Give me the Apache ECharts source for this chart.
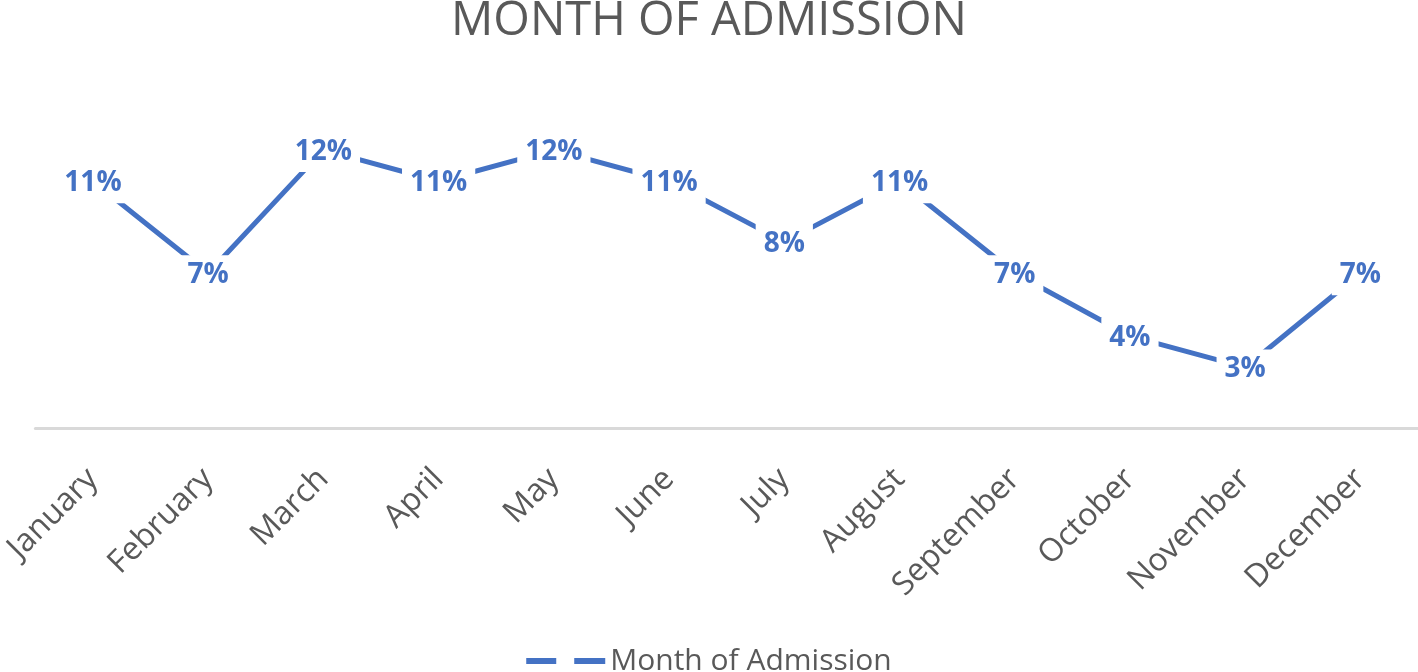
<!DOCTYPE html>
<html>
<head>
<meta charset="utf-8">
<script src="https://cdn.jsdelivr.net/npm/echarts@6/dist/echarts.min.js"></script>
<style>
  html, body { margin: 0; padding: 0; background: #fff; }
  #chart { width: 1418px; height: 672px; }
</style>
</head>
<body>
<div id="chart"></div>
<script>
const months = ['January', 'February', 'March', 'April', 'May', 'June',
  'July', 'August', 'September', 'October', 'November', 'December']
// share of admissions per month
const admissionShare = [0.110, 0.069, 0.124, 0.110, 0.124, 0.110,
  0.083, 0.110, 0.069, 0.041, 0.027, 0.069]

const blue = '#4472C4'
const grey = '#595959'
const font = 'Open Sans'

const chart = echarts.init(document.getElementById('chart'))

chart.setOption({
  animation: false,
  title: {
    text: 'MONTH OF ADMISSION',
    left: 'center',
    top: -7,
    textStyle: {
      fontFamily: font,
      fontSize: 47,
      fontWeight: 'normal',
      color: grey,
    },
  },
  legend: {
    bottom: -9,
    left: 'center',
    itemWidth: 79,
    itemHeight: 6,
    itemGap: 10,
    icon: 'path://M0,0H30V6H0Z M48,0H79V6H48Z',
    textStyle: {
      fontFamily: font,
      fontSize: 30,
      color: grey,
    },
    data: ['Month of Admission'],
  },
  grid: {
    left: 35,
    right: 0,
    top: 114,
    bottom: 244,
  },
  xAxis: {
    type: 'category',
    data: months,
    axisTick: { show: false },
    axisLine: {
      lineStyle: { color: '#d9d9d9', width: 3 },
    },
    axisLabel: {
      rotate: 45,
      margin: 46,
      fontFamily: font,
      fontSize: 32,
      color: grey,
    },
  },
  yAxis: {
    type: 'value',
    min: 0,
    max: 0.14,
    show: false,
  },
  series: [
    {
      name: 'Month of Admission',
      type: 'line',
      data: admissionShare,
      symbol: 'circle',
      symbolSize: 1,
      itemStyle: { color: blue },
      lineStyle: { color: blue, width: 5 },
      label: {
        show: true,
        position: 'inside',
        offset: [0, 2],
        fontFamily: font,
        fontSize: 28,
        fontWeight: 'bold',
        color: blue,
        backgroundColor: '#fff',
        padding: [6, 8],
        formatter: (p) => Math.round(p.value * 100) + '%',
      },
    },
  ],
})
</script>
</body>
</html>
